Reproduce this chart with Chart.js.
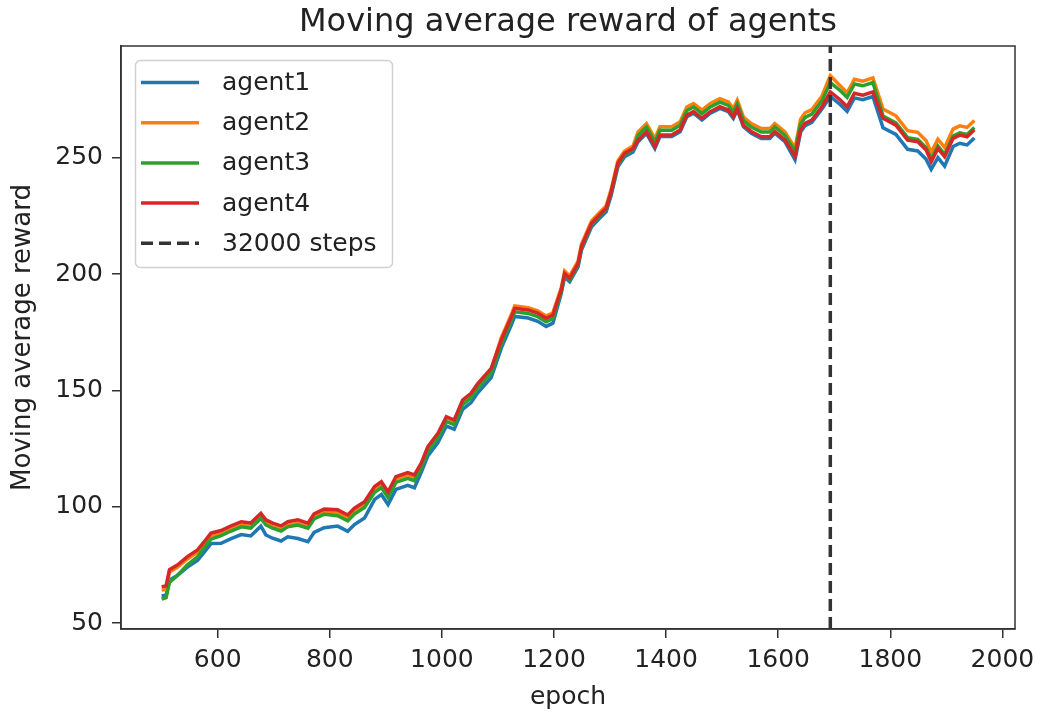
<!DOCTYPE html>
<html>
<head>
<meta charset="utf-8">
<title>Moving average reward of agents</title>
<script src="https://cdn.jsdelivr.net/npm/chart.js@4.4.0/dist/chart.umd.min.js"></script>
<style>
  body { margin: 0; background: #fff; }
  canvas { display: block; }
</style>
</head>
<body>
<canvas id="chart" width="1037" height="714"></canvas>
<script>
// ---- data ----
const epochs = [
  500, 508, 514, 528, 546, 564, 576, 588, 606, 624, 642, 659, 677, 686, 698, 713, 725, 743, 761, 772,
  790, 814, 832, 844, 862, 880, 892, 904, 918, 939, 951, 963, 975, 993, 1008, 1022, 1037, 1052, 1064, 1088,
  1106, 1124, 1130, 1154, 1171, 1186, 1198, 1213, 1219, 1228, 1243, 1249, 1267, 1281, 1293, 1302, 1314, 1326, 1341, 1350,
  1365, 1380, 1389, 1410, 1425, 1437, 1449, 1464, 1479, 1496, 1511, 1520, 1527, 1538, 1552, 1570, 1585, 1594, 1612, 1630,
  1640, 1648, 1660, 1678, 1693, 1711, 1723, 1736, 1751, 1769, 1787, 1810, 1831, 1849, 1864, 1873, 1885, 1897, 1912, 1924,
  1937, 1950
];

const agent1 = [
  61.7, 62.0, 68.5, 70.5, 74.1, 77.0, 80.5, 84.2, 84.3, 86.3, 88.1, 87.5, 91.7, 87.9, 86.5, 85.3, 87.1, 86.4, 85.0, 89.0,
  91.0, 91.7, 89.5, 92.4, 95.2, 103.2, 105.3, 101.0, 107.5, 109.2, 108.2, 114.7, 121.9, 127.6, 134.7, 133.3, 141.9, 144.8, 149.0, 155.5,
  168.2, 178.2, 181.8, 181.1, 179.7, 177.5, 178.9, 191.7, 198.8, 196.7, 203.1, 210.3, 220.3, 223.9, 226.8, 233.9, 246.1, 250.4, 252.5, 256.9,
  260.5, 254.0, 259.1, 259.1, 261.2, 267.6, 269.1, 266.2, 269.1, 271.2, 269.8, 266.9, 270.5, 263.3, 260.5, 258.3, 258.3, 260.5, 256.9, 249.1,
  261.0, 263.8, 265.2, 270.9, 276.3, 272.8, 269.9, 275.7, 274.9, 276.3, 262.9, 260.0, 253.6, 252.9, 249.3, 245.0, 250.0, 246.4, 254.8, 256.2,
  255.5, 258.5
];

const agent2 = [
  64.2, 64.5, 72.0, 74.0, 77.6, 80.5, 84.0, 87.7, 88.3, 90.3, 92.1, 91.5, 95.7, 92.9, 91.5, 90.3, 92.1, 92.9, 91.5, 95.5,
  97.5, 97.7, 95.5, 98.4, 101.2, 107.7, 109.8, 105.5, 112.0, 113.7, 112.7, 118.2, 125.4, 131.1, 138.2, 136.8, 145.4, 148.3, 152.5, 159.0,
  172.7, 182.7, 186.3, 185.6, 184.2, 182.0, 183.4, 194.2, 201.3, 199.2, 205.6, 212.8, 222.8, 226.4, 229.3, 236.4, 248.6, 252.9, 255.0, 261.1,
  264.7, 258.2, 263.3, 263.3, 265.4, 271.8, 273.3, 270.4, 273.3, 275.4, 274.0, 271.1, 274.7, 267.5, 264.7, 262.5, 262.5, 264.7, 261.1, 254.1,
  266.5, 269.3, 270.7, 276.4, 285.3, 280.8, 277.9, 283.7, 282.9, 284.3, 270.9, 268.0, 261.6, 260.9, 257.3, 252.3, 258.0, 254.4, 262.3, 263.7,
  263.0, 266.0
];

const agent3 = [
  60.3, 61.0, 67.5, 70.5, 75.1, 78.5, 82.4, 86.1, 87.6, 89.6, 91.4, 90.8, 95.0, 92.2, 90.8, 89.6, 91.4, 92.2, 90.8, 94.8,
  96.8, 96.2, 94.0, 96.9, 99.7, 106.2, 108.3, 104.0, 110.5, 112.2, 111.2, 116.7, 123.9, 129.6, 136.7, 135.3, 143.9, 146.8, 151.0, 157.5,
  170.2, 180.2, 183.8, 183.1, 181.7, 179.5, 180.9, 192.7, 199.8, 197.7, 204.1, 211.3, 221.3, 224.9, 227.8, 234.9, 247.1, 251.4, 253.5, 259.6,
  263.2, 256.7, 261.8, 261.8, 263.9, 270.3, 271.8, 268.9, 271.8, 273.9, 272.5, 269.6, 273.2, 266.0, 263.2, 261.0, 261.0, 263.2, 259.6, 252.6,
  264.5, 267.3, 268.7, 274.4, 282.3, 278.8, 275.9, 281.7, 280.9, 282.3, 267.9, 265.0, 258.6, 257.9, 254.3, 249.3, 255.0, 251.4, 259.3, 260.7,
  260.0, 263.0
];

const agent4 = [
  65.7, 66.0, 73.0, 75.0, 78.6, 81.5, 85.0, 88.7, 89.8, 91.8, 93.6, 93.0, 97.2, 94.4, 93.0, 91.8, 93.6, 94.4, 93.0, 97.0,
  99.0, 98.7, 96.5, 99.4, 102.2, 108.7, 110.8, 106.5, 113.0, 114.7, 113.7, 118.7, 125.9, 131.6, 138.7, 137.3, 145.9, 148.8, 153.0, 159.5,
  171.7, 181.7, 185.3, 184.6, 183.2, 181.0, 182.4, 193.2, 200.3, 198.2, 204.6, 211.8, 221.8, 225.4, 228.3, 235.4, 247.6, 251.9, 254.0, 257.6,
  261.2, 254.7, 259.8, 259.8, 261.9, 268.3, 269.8, 266.9, 269.8, 271.9, 270.5, 267.6, 271.2, 264.0, 261.2, 259.0, 259.0, 261.2, 257.6, 250.6,
  262.0, 264.8, 266.2, 271.9, 278.3, 274.8, 271.9, 277.7, 276.9, 278.3, 266.9, 264.0, 257.6, 256.9, 253.3, 248.3, 254.0, 250.4, 258.3, 259.7,
  259.0, 262.0
];

const agentNames = ["agent1", "agent2", "agent3", "agent4"];
const agentColors = ["#1f77b4", "#ff7f0e", "#2ca02c", "#d62728"];

const stepEpoch = 1693;
const stepLabel = "32000 steps";

const xTicks = [600, 800, 1000, 1200, 1400, 1600, 1800, 2000];
const yTicks = [50, 100, 150, 200, 250];
const xMin = 427.5, xMax = 2022.5;
const yMin = 47.5, yMax = 298;

const titleText = "Moving average reward of agents";
const FONT = "'DejaVu Sans', sans-serif";
const INK = "#222";

Chart.defaults.font.family = FONT;
Chart.defaults.color = INK;

const series = [agent1, agent2, agent3, agent4];
const toPoints = vals => vals.map((v, i) => ({ x: epochs[i], y: v }));

const datasets = series.map((vals, i) => ({
  label: agentNames[i],
  data: toPoints(vals),
  borderColor: agentColors[i],
  backgroundColor: agentColors[i],
  borderWidth: 3.5,
  pointRadius: 0,
  tension: 0,
  order: 4 - i, // later agents drawn on top, like matplotlib
}));

datasets.push({
  label: stepLabel,
  data: [{ x: stepEpoch, y: yMin }, { x: stepEpoch, y: yMax }],
  borderColor: "#333",
  backgroundColor: "#333",
  borderWidth: 3.5,
  borderDash: [12, 6],
  pointRadius: 0,
  order: 0,
});

// frame, title and legend box drawn matplotlib-style
const decorPlugin = {
  id: "decor",
  afterDraw(chart) {
    const { ctx, chartArea: a } = chart;
    ctx.save();
    ctx.strokeStyle = "#333";
    ctx.lineWidth = 1.5;
    ctx.setLineDash([]);
    ctx.strokeRect(a.left, a.top, a.right - a.left, a.bottom - a.top);

    ctx.fillStyle = INK;
    ctx.font = "32px " + FONT;
    ctx.textAlign = "center";
    ctx.textBaseline = "alphabetic";
    ctx.fillText(titleText, (a.left + a.right) / 2, 31);

    // legend
    const bx = 135.5, by = 60.5, bw = 257, bh = 207;
    ctx.beginPath();
    ctx.roundRect(bx, by, bw, bh, 5);
    ctx.fillStyle = "rgba(255,255,255,0.8)";
    ctx.fill();
    ctx.strokeStyle = "#d0d0d0";
    ctx.lineWidth = 1.5;
    ctx.stroke();

    ctx.font = "25px " + FONT;
    ctx.textAlign = "left";
    ctx.textBaseline = "middle";
    chart.data.datasets.forEach((ds, i) => {
      const y = 82.5 + i * 40.2;
      ctx.beginPath();
      ctx.setLineDash(ds.borderDash || []);
      ctx.strokeStyle = ds.borderColor;
      ctx.lineWidth = ds.borderWidth;
      ctx.moveTo(141, y);
      ctx.lineTo(199, y);
      ctx.stroke();
      ctx.setLineDash([]);
      ctx.fillStyle = INK;
      ctx.fillText(ds.label, 222, y + 1);
    });
    ctx.restore();
  },
};

const plainTick = v => String(v);

new Chart(document.getElementById("chart"), {
  type: "line",
  data: { datasets },
  options: {
    responsive: false,
    devicePixelRatio: 1,
    animation: false,
    layout: { padding: { top: 46, right: 22, left: 0, bottom: 0 } },
    plugins: {
      legend: { display: false },
      title: { display: false },
      tooltip: { enabled: false },
    },
    scales: {
      x: {
        type: "linear",
        min: xMin,
        max: xMax,
        afterBuildTicks: s => { s.ticks = xTicks.map(v => ({ value: v })); },
        afterFit: s => { s.height = 85; s.paddingLeft = 0; s.paddingRight = 0; },
        grid: { display: true, drawOnChartArea: false, drawTicks: true, tickLength: 9, color: "#333", lineWidth: 1.5 },
        border: { display: true, color: "#333", width: 1.5 },
        ticks: { padding: 7, color: INK, font: { size: 25 }, maxRotation: 0, autoSkip: false, callback: plainTick },
        title: { display: true, text: "epoch", color: INK, font: { size: 25 }, padding: { top: 0, bottom: 2 } },
      },
      y: {
        type: "linear",
        min: yMin,
        max: yMax,
        afterBuildTicks: s => { s.ticks = yTicks.map(v => ({ value: v })); },
        afterFit: s => { s.width = 121; s.paddingTop = 0; s.paddingBottom = 0; },
        grid: { display: true, drawOnChartArea: false, drawTicks: true, tickLength: 9, color: "#333", lineWidth: 1.5 },
        border: { display: true, color: "#333", width: 1.5 },
        ticks: { padding: 9, color: INK, font: { size: 25 }, callback: plainTick },
        title: { display: true, text: "Moving average reward", color: INK, font: { size: 26 }, padding: { top: 8, bottom: 0 } },
      },
    },
  },
  plugins: [decorPlugin],
});
</script>
</body>
</html>
